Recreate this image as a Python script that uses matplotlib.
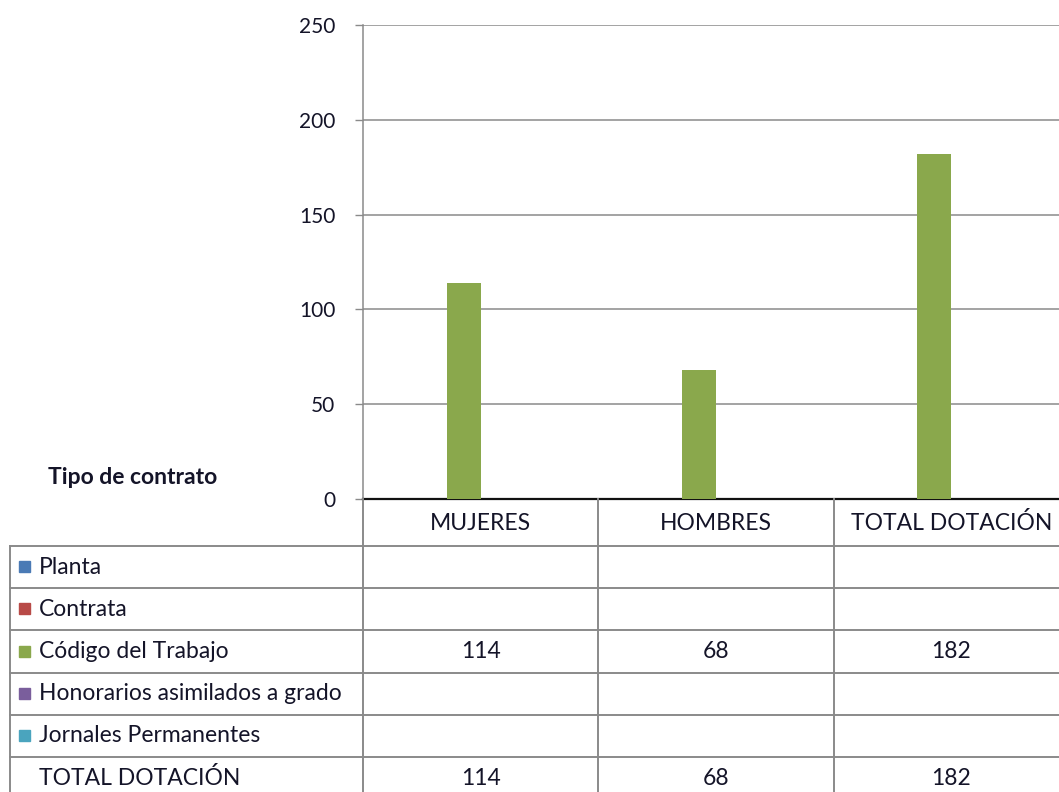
import matplotlib
matplotlib.use("Agg")
import matplotlib.pyplot as plt
from matplotlib.lines import Line2D
from matplotlib.patches import Rectangle

categories = ["MUJERES", "HOMBRES", "TOTAL DOTACIÓN"]
series_names = ["Planta", "Contrata", "Código del Trabajo",
                "Honorarios asimilados a grado", "Jornales Permanentes",
                "TOTAL DOTACIÓN"]
series_values = [
    [None, None, None],
    [None, None, None],
    [114, 68, 182],
    [None, None, None],
    [None, None, None],
    [114, 68, 182],
]
series_colors = ["#4A7AB5", "#B84A47", "#8AA84C", "#7A5E9C", "#4AA4BE", None]
yticks = [0, 50, 100, 150, 200, 250]
table_title = "Tipo de contrato"

W, H = 1059, 792
DPI = 100
plt.rcParams['font.family'] = ['Lato', 'DejaVu Sans']
FS = 16.5
FS_TICK = 15
TXT = "#141428"
GRID = "#8a8a8a"

fig = plt.figure(figsize=(W / DPI, H / DPI), dpi=DPI)
fig.patch.set_facecolor("white")

ax_l, ax_r, ax_t, ax_b = 363, 1069, 25, 499
ax = fig.add_axes([ax_l / W, 1 - ax_b / H, (ax_r - ax_l) / W, (ax_b - ax_t) / H])
ax.set_xlim(-0.5, len(categories) - 0.5)
ax.set_ylim(0, 250)
ax.set_yticks(yticks)
ax.set_yticklabels([str(t) for t in yticks], fontsize=FS_TICK, color=TXT)
ax.tick_params(axis='y', length=6, width=1, color=GRID, pad=14)
ax.set_xticks([])
ax.yaxis.grid(True, color=GRID, linewidth=1.1)
ax.set_axisbelow(True)
for s in ["top", "right"]:
    ax.spines[s].set_visible(False)
ax.spines["left"].set_color(GRID)
ax.spines["left"].set_linewidth(1.1)
ax.spines["bottom"].set_color("#111111")
ax.spines["bottom"].set_linewidth(1.6)

n = len(series_names)
w = 0.145
for i, (vals, col) in enumerate(zip(series_values, series_colors)):
    if col is None:
        continue
    xs = [j + (i - (n - 1) / 2) * w for j in range(len(categories))]
    hs = [v if v is not None else 0 for v in vals]
    ax.bar(xs, hs, width=w, color=col, zorder=3)

# table overlay in pixel coordinates
tab = fig.add_axes([0, 0, 1, 1], zorder=5)
tab.set_xlim(0, W)
tab.set_ylim(H, 0)
tab.axis("off")
tab.patch.set_alpha(0)

def data_to_px(x):
    disp = ax.transData.transform((x, 0))
    return disp[0] * W / fig.bbox.width

bounds = [data_to_px(j - 0.5) for j in range(len(categories) + 1)]
centers = [data_to_px(j) for j in range(len(categories))]
row_top = 546
row_h = 42.2
header_top = ax_b
n_rows = len(series_names)
row_edges = [row_top + k * row_h for k in range(n_rows + 1)]
left_x = 10

lw = 1.4
for b in bounds:
    tab.add_line(Line2D([b, b], [header_top, H + 5], color=GRID, lw=lw))
tab.add_line(Line2D([left_x, left_x], [row_top, H + 5], color=GRID, lw=lw))
for e in row_edges[:-1]:
    tab.add_line(Line2D([left_x, W + 5], [e, e], color=GRID, lw=lw))

for c, name in zip(centers, categories):
    tab.text(c, (header_top + row_top) / 2 + 1, name, ha="center", va="center",
             fontsize=FS, color=TXT)

for k, (name, vals, col) in enumerate(zip(series_names, series_values, series_colors)):
    yc = row_edges[k] + row_h / 2
    if col is not None:
        tab.add_patch(Rectangle((19, yc - 6), 11, 11, color=col))
    tab.text(39, yc, name, ha="left", va="center", fontsize=FS, color=TXT)
    for c, v in zip(centers, vals):
        if v is not None:
            tab.text(c, yc, str(v), ha="center", va="center", fontsize=FS, color=TXT)

tab.text(133, 477, table_title, ha="center", va="center", fontsize=FS,
         fontweight="bold", color=TXT)

fig.savefig("out.png", dpi=DPI)
